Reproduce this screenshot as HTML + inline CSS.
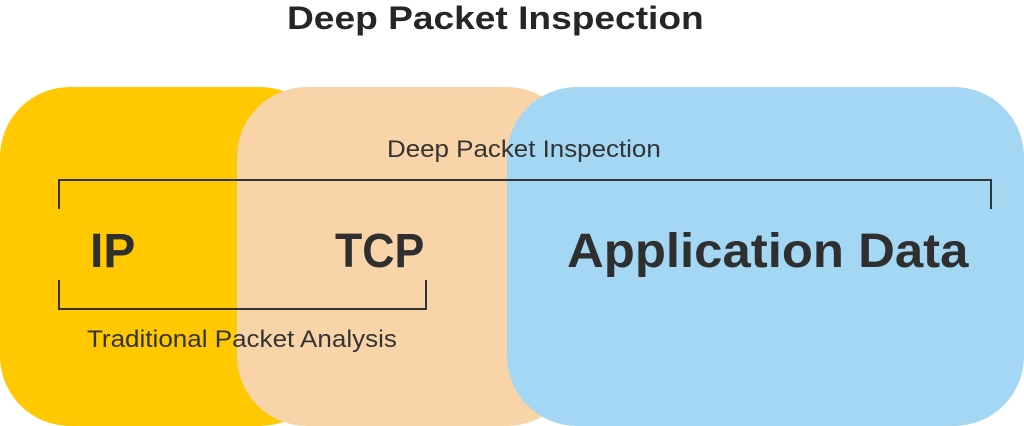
<!DOCTYPE html>
<html style="overflow:hidden"><head><style>
html,body{margin:0;width:1024px;height:426px;overflow:hidden}
body{background:#fff;position:relative;font-family:"Liberation Sans",sans-serif;color:#333}
.a{position:absolute}
.t{white-space:nowrap;line-height:1;transform-origin:0 0}
</style></head><body>
<div class="a" style="left:0;top:87px;width:330px;height:339px;background:#FFC800;border-radius:70px"></div>
<div class="a" style="left:237px;top:87px;width:340px;height:339px;background:#F9D4A8;border-radius:70px"></div>
<div class="a" style="left:507px;top:87px;width:517px;height:339px;background:#A3D7F4;border-radius:70px"></div>
<div class="a t" style="left:287px;top:2px;font-size:32px;font-weight:bold;color:#262626;transform:scaleX(1.16)">Deep Packet Inspection</div>
<div class="a t" style="left:387px;top:138px;font-size:24px;color:#333;transform:scaleX(1.08)">Deep Packet Inspection</div>
<div class="a" style="left:58px;top:179px;width:930px;height:28px;border:2px solid #333;border-bottom:none"></div>
<div class="a t" style="left:90px;top:228px;font-size:48px;font-weight:bold;color:#2f2f2f">IP</div>
<div class="a t" style="left:335px;top:228px;font-size:48px;font-weight:bold;color:#2f2f2f;transform:scaleX(0.93)">TCP</div>
<div class="a t" style="left:567px;top:228px;font-size:48px;font-weight:bold;color:#2f2f2f;transform:scaleX(1.06)">Application Data</div>
<div class="a" style="left:58px;top:280px;width:365px;height:28px;border:2px solid #333;border-top:none"></div>
<div class="a t" style="left:87px;top:328px;font-size:24px;color:#333;transform:scaleX(1.084)">Traditional Packet Analysis</div>
</body></html>
